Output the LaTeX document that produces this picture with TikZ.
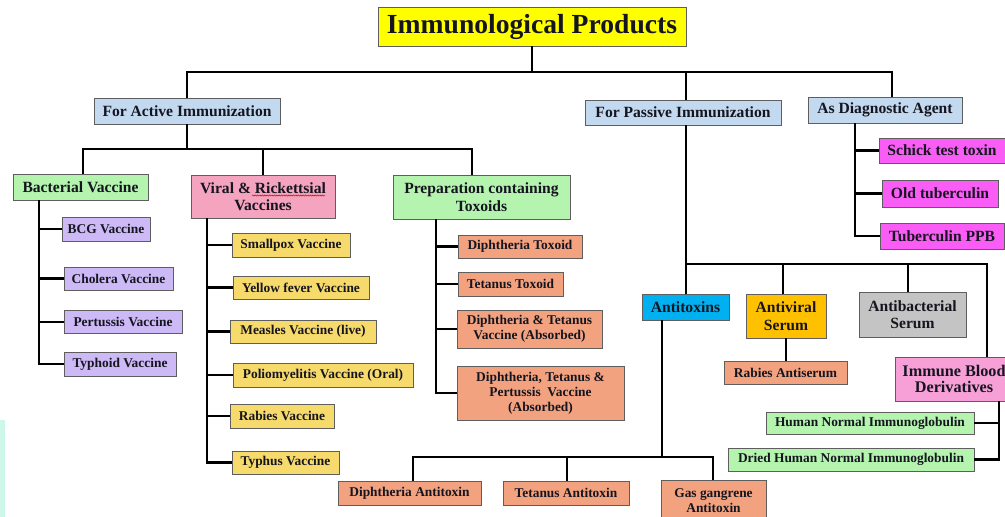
\documentclass[tikz,border=0pt]{standalone}
\usepackage{fontspec}
\setmainfont{Liberation Serif}
\usetikzlibrary{decorations.pathmorphing}
\definecolor{txt}{HTML}{15151F}
\definecolor{boxline}{HTML}{5E5E5E}
\definecolor{cTitle}{HTML}{FFFF00}
\definecolor{cBlue}{HTML}{C3D9EF}
\definecolor{cGreen}{HTML}{B4F4AF}
\definecolor{cLav}{HTML}{CCB9F5}
\definecolor{cPink}{HTML}{F5A4BF}
\definecolor{cYel}{HTML}{F7DA6C}
\definecolor{cSalm}{HTML}{F3A27F}
\definecolor{cCyan}{HTML}{00B0F0}
\definecolor{cOrg}{HTML}{FFC000}
\definecolor{cGray}{HTML}{C4C4C4}
\definecolor{cImm}{HTML}{F7A0D8}
\definecolor{cMag}{HTML}{FA5CF6}
\definecolor{cMint}{HTML}{CDF7E8}
\begin{document}
\begin{tikzpicture}[x=1pt,y=-1pt,
  box/.style={draw=boxline, line width=0.9pt, inner sep=0pt, align=center, text=txt,
    font=\bfseries\fontsize{13.4}{15}\selectfont},
  hd/.style={box, font=\bfseries\fontsize{15.6}{17.5}\selectfont},
  conn/.style={line width=2.7pt, black}]
\useasboundingbox (0,0) rectangle (1005,517);
\clip (0,0) rectangle (1005,517);
\fill[white] (0,0) rectangle (1005,517);
\fill[cMint] (0,420) rectangle (5,517);

% nodes
\node[box, fill=cTitle, minimum width=308, minimum height=39, font=\bfseries\fontsize{27.6}{30}\selectfont] (title) at (532,26.5) {Immunological Products};
\node[hd, fill=cBlue, minimum width=186, minimum height=26] (active) at (187,111) {For Active Immunization};
\node[hd, fill=cBlue, minimum width=196, minimum height=25] (passive) at (683,112.5) {For Passive Immunization};
\node[hd, fill=cBlue, minimum width=154, minimum height=26] (diag) at (885,110) {As Diagnostic Agent};

\node[hd, fill=cGreen, minimum width=135, minimum height=26] (bact) at (80.5,187) {Bacterial Vaccine};
\node[hd, fill=cPink, minimum width=144, minimum height=43] (viral) at (263,196.5) {Viral \& Rickettsial\\Vaccines};
\node[hd, fill=cGreen, minimum width=177, minimum height=44] (prep) at (481.5,197) {Preparation containing\\Toxoids};

\node[box, fill=cLav, minimum width=88, minimum height=24] (bcg) at (106,229) {BCG Vaccine};
\node[box, fill=cLav, minimum width=109, minimum height=23] (cholera) at (118.5,278.5) {Cholera Vaccine};
\node[box, fill=cLav, minimum width=118, minimum height=23] (pert) at (123,322) {Pertussis Vaccine};
\node[box, fill=cLav, minimum width=112, minimum height=24] (typhoid) at (120,364) {Typhoid Vaccine};

\node[box, fill=cYel, minimum width=118, minimum height=24] (smallpox) at (291,245) {Smallpox Vaccine};
\node[box, fill=cYel, minimum width=136, minimum height=23] (yellow) at (301,287.5) {Yellow fever Vaccine};
\node[box, fill=cYel, minimum width=146, minimum height=23] (measles) at (303,331.5) {Measles Vaccine (live)};
\node[box, fill=cYel, minimum width=180, minimum height=24] (polio) at (323,375) {Poliomyelitis Vaccine (Oral)};
\node[box, fill=cYel, minimum width=104, minimum height=24] (rabiesv) at (282,416) {Rabies Vaccine};
\node[box, fill=cYel, minimum width=107, minimum height=23] (typhus) at (285.5,462.5) {Typhus Vaccine};

\node[box, fill=cSalm, minimum width=124, minimum height=23] (diphtox) at (520,246.5) {Diphtheria Toxoid};
\node[box, fill=cSalm, minimum width=105, minimum height=24] (tettox) at (510.5,284) {Tetanus Toxoid};
\node[box, fill=cSalm, minimum width=145, minimum height=38] (dt) at (529.5,329) {Diphtheria \& Tetanus\\Vaccine (Absorbed)};
\node[box, fill=cSalm, minimum width=167, minimum height=54] (dtp) at (540.5,393) {Diphtheria, Tetanus \&\\Pertussis\ \ Vaccine\\(Absorbed)};

\node[hd, fill=cCyan, minimum width=87, minimum height=26] (antitox) at (685.5,307) {Antitoxins};
\node[hd, fill=cOrg, minimum width=80, minimum height=44] (antiviral) at (786,316) {Antiviral\\Serum};
\node[hd, fill=cGray, minimum width=107, minimum height=45] (antibact) at (912.5,314.5) {Antibacterial\\Serum};
\node[hd, fill=cImm, minimum width=118, minimum height=44, font=\bfseries\fontsize{16.2}{16}\selectfont] (immune) at (954,379) {Immune Blood\\Derivatives};
\node[box, fill=cSalm, minimum width=123, minimum height=23] (rabiesanti) at (785.5,372.5) {Rabies Antiserum};
\node[box, fill=cGreen, minimum width=208, minimum height=22] (hni) at (870,423) {Human Normal Immunoglobulin};
\node[box, fill=cGreen, minimum width=246, minimum height=23] (dhni) at (851,459.5) {Dried Human Normal Immunoglobulin};
\node[box, fill=cSalm, minimum width=143, minimum height=24] (diphanti) at (409.5,493) {Diphtheria Antitoxin};
\node[box, fill=cSalm, minimum width=126, minimum height=24] (tetanti) at (566,493) {Tetanus Antitoxin};
\node[box, fill=cSalm, minimum width=105, minimum height=41] (gas) at (713.5,500.5) {Gas gangrene\\Antitoxin};

\node[hd, fill=cMag, minimum width=126, minimum height=25] (schick) at (942,150.5) {Schick test toxin};
\node[hd, fill=cMag, minimum width=116, minimum height=27] (oldt) at (940,193.5) {Old tuberculin};
\node[hd, fill=cMag, minimum width=124, minimum height=26] (ppb) at (942,236) {Tuberculin PPB};

% spell-check underline
\draw[red!85!black, line width=0.5pt, decorate, decoration={snake, amplitude=0.6pt, segment length=2.4pt}] (252,195.5) -- (325,195.5);

% helper coordinates
\coordinate (y0) at (0,72);
\coordinate (xdiag) at (892,0);
\coordinate (xpass) at (686,0);
\coordinate (y1) at (0,149);
\coordinate (xbact) at (83,0);
\coordinate (xprep) at (472,0);
\coordinate (tb) at (39,0);
\coordinate (tv) at (207,0);
\coordinate (tp) at (436,0);
\coordinate (y2) at (0,264);
\coordinate (xav) at (783,0);
\coordinate (xab) at (908,0);
\coordinate (xim) at (987,0);
\coordinate (ta) at (662,0);
\coordinate (y3) at (0,457);
\coordinate (xgas) at (713,0);
\coordinate (xtet) at (567,0);
\coordinate (xdip) at (413,0);
\coordinate (td) at (855,0);
\coordinate (ti) at (999,0);

% level 0
\draw[conn] (title.south) -- (title.south |- y0);
\draw[conn] (active.north) |- (xdiag |- y0) -- (diag.north -| xdiag);
\draw[conn] (passive.north -| xpass) -- (xpass |- y0);

% active
\draw[conn] (active.south) -- (active.south |- y1);
\draw[conn] (bact.north -| xbact) |- (xprep |- y1) -- (prep.north -| xprep);
\draw[conn] (viral.north) -- (viral.north |- y1);

% bacterial
\draw[conn] (bact.south -| tb) |- (typhoid.west);
\draw[conn] (bcg.west) -- (bcg.west -| tb);
\draw[conn] (cholera.west) -- (cholera.west -| tb);
\draw[conn] (pert.west) -- (pert.west -| tb);

% viral
\draw[conn] (viral.south -| tv) |- (typhus.west);
\draw[conn] (smallpox.west) -- (smallpox.west -| tv);
\draw[conn] (yellow.west) -- (yellow.west -| tv);
\draw[conn] (measles.west) -- (measles.west -| tv);
\draw[conn] (polio.west) -- (polio.west -| tv);
\draw[conn] (rabiesv.west) -- (rabiesv.west -| tv);

% toxoids
\draw[conn] (prep.south -| tp) |- (dtp.west);
\draw[conn] (diphtox.west) -- (diphtox.west -| tp);
\draw[conn] (tettox.west) -- (tettox.west -| tp);
\draw[conn] (dt.west) -- (dt.west -| tp);

% passive
\draw[conn] (passive.south -| xpass) |- (xim |- y2) -- (immune.north -| xim);
\draw[conn] (antitox.north -| xpass) -- (xpass |- y2);
\draw[conn] (antiviral.north -| xav) -- (xav |- y2);
\draw[conn] (antibact.north -| xab) -- (xab |- y2);
\draw[conn] (antiviral.south) -- (rabiesanti.north -| antiviral.south);

% antitoxins
\draw[conn] (antitox.south -| ta) -- (ta |- y3);
\draw[conn] (diphanti.north -| xdip) |- (xgas |- y3) -- (gas.north -| xgas);
\draw[conn] (tetanti.north -| xtet) -- (xtet |- y3);

% diagnostic
\draw[conn] (diag.south -| td) |- (ppb.west);
\draw[conn] (schick.west) -- (schick.west -| td);
\draw[conn] (oldt.west) -- (oldt.west -| td);

% immune blood
\draw[conn] (immune.south -| ti) |- (dhni.east);
\draw[conn] (hni.east) -- (hni.east -| ti);
\end{tikzpicture}
\end{document}
